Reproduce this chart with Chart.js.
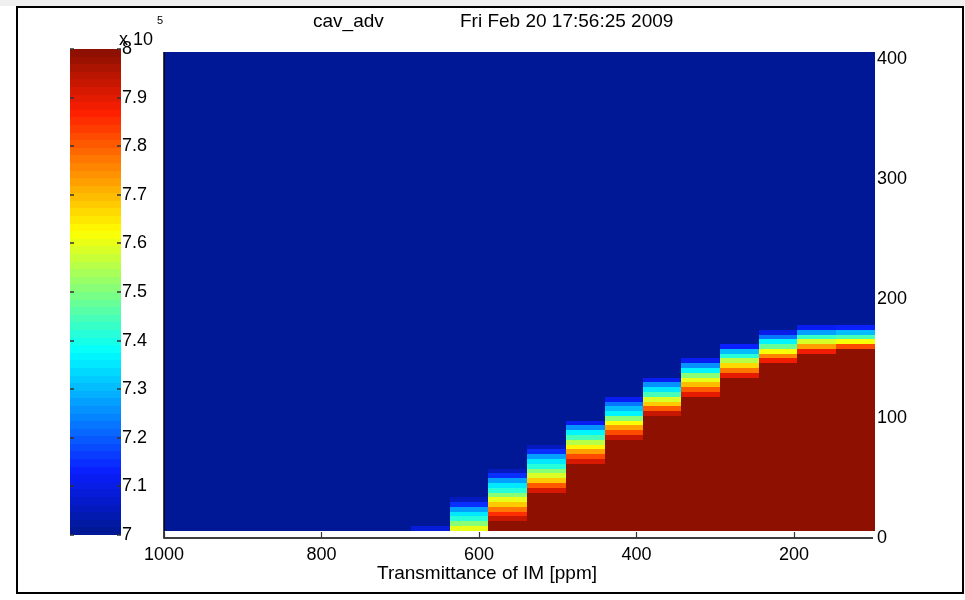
<!DOCTYPE html>
<html>
<head>
<meta charset="utf-8">
<script src="https://cdn.jsdelivr.net/npm/chart.js@4.4.1/dist/chart.umd.min.js"></script>
<style>
  html, body { margin: 0; padding: 0; background: #fff; }
  #wrap { position: relative; width: 965px; height: 600px; }
  #wrap canvas { position: absolute; left: 0; top: 0; }
</style>
</head>
<body>
<div id="wrap">
  <canvas id="graph_map" width="965" height="600"></canvas>
  <canvas id="graph_cbar" width="200" height="600"></canvas>
</div>
<script>
/*------------------------------*/
/*            Donnees           */
/*------------------------------*/
var xTicks = [1000, 800, 600, 400, 200]
var yTicks = [0, 100, 200, 300, 400]
var cbarTicks = [7, 7.1, 7.2, 7.3, 7.4, 7.5, 7.6, 7.7, 7.8, 7.9, 8]

// image extent (x in ppm, y in axis units), row height of the map
var xRange = [1000, 97]
var yRange = [6, 406]
var rowStep = 4

// colour limits (x 10^5)
var vMin = 7
var vMax = 8

// column edges (ppm), left of the first edge everything is vMin
var xEdges = [686, 637, 588.5, 539, 489.5, 440, 392, 343, 294, 244.5, 196, 146.5, 97]
// number of rows at vMax at the bottom of each column
var redRows = [0, 0, 2, 8, 14, 19, 24, 28, 32, 35, 37, 38]
// values of the transition rows above, from bottom to top
var bands = [
    [7.08],
    [7.6, 7.5, 7.42, 7.35, 7.27, 7.15, 7.05],
    [7.93, 7.85, 7.77, 7.68, 7.6, 7.5, 7.42, 7.35, 7.27, 7.15, 7.05],
    [7.92, 7.8, 7.68, 7.58, 7.5, 7.42, 7.35, 7.27, 7.15, 7.05],
    [7.92, 7.82, 7.72, 7.64, 7.55, 7.45, 7.36, 7.25, 7.12],
    [7.93, 7.82, 7.72, 7.62, 7.5, 7.37, 7.3, 7.22, 7.12],
    [7.93, 7.8, 7.68, 7.58, 7.45, 7.35, 7.25, 7.12],
    [7.9, 7.8, 7.7, 7.6, 7.5, 7.37, 7.25, 7.12],
    [7.9, 7.78, 7.66, 7.55, 7.42, 7.3, 7.13],
    [7.88, 7.75, 7.62, 7.48, 7.36, 7.23, 7.1],
    [7.88, 7.72, 7.58, 7.43, 7.28, 7.12],
    [7.82, 7.62, 7.44, 7.3, 7.14]
]

var titleLeft = 'cav_adv'
var titleRight = 'Fri Feb 20 17:56:25 2009'
var xTitle = 'Transmittance of IM [ppm]'

/*------------------------------*/
/*        Colormap (jet)        */
/*------------------------------*/
var jetStops = [
    [0, [0, 24, 150]],
    [0.125, [10, 30, 255]],
    [0.375, [0, 255, 255]],
    [0.625, [255, 255, 0]],
    [0.875, [255, 30, 0]],
    [1, [142, 16, 0]]
]
function jetIndex(v) {
    var i = Math.floor((v - vMin) / (vMax - vMin) * 64)
    return Math.min(63, Math.max(0, i))
}
function jetColor(i) {
    var t = i / 63
    for (var k = 1; k < jetStops.length; k++) {
        if (t <= jetStops[k][0]) {
            var a = jetStops[k - 1], b = jetStops[k]
            var f = (t - a[0]) / (b[0] - a[0])
            var c = a[1].map(function (ca, n) { return Math.round(ca + (b[1][n] - ca) * f) })
            return 'rgb(' + c.join(',') + ')'
        }
    }
    return 'rgb(142,16,0)'
}
function colorOf(v) { return jetColor(jetIndex(v)) }

var font = '"Liberation Sans", Arial, sans-serif'
Chart.defaults.font.family = font
Chart.defaults.color = '#000'

/*------------------------------*/
/*          Graphe carte        */
/*------------------------------*/
var mapPlugin = {
    id: 'heatmap',
    beforeDatasetsDraw: function (chart) {
        var ctx = chart.ctx
        var xs = chart.scales.x, ys = chart.scales.y
        function rect(x0, x1, y0, y1, col) {
            var a = Math.round(xs.getPixelForValue(x0)), b = Math.round(xs.getPixelForValue(x1))
            var c = Math.round(ys.getPixelForValue(y1)), d = Math.round(ys.getPixelForValue(y0))
            ctx.fillStyle = col
            ctx.fillRect(Math.min(a, b), c, Math.abs(b - a), d - c)
        }
        ctx.save()
        rect(xRange[0], xRange[1], yRange[0], yRange[1], colorOf(vMin))
        for (var c = 0; c < bands.length; c++) {
            var xl = xEdges[c], xr = xEdges[c + 1]
            if (redRows[c] > 0) {
                rect(xl, xr, yRange[0], yRange[0] + redRows[c] * rowStep, colorOf(vMax))
            }
            for (var j = 0; j < bands[c].length; j++) {
                var r = redRows[c] + j
                rect(xl, xr, yRange[0] + r * rowStep, yRange[0] + (r + 1) * rowStep, colorOf(bands[c][j]))
            }
        }
        ctx.restore()
    },
    afterDraw: function (chart) {
        var ctx = chart.ctx
        var area = chart.chartArea
        var xs = chart.scales.x
        ctx.save()
        // axes
        ctx.strokeStyle = '#000'
        ctx.lineWidth = 1.5
        ctx.beginPath()
        ctx.moveTo(area.left, area.top)
        ctx.lineTo(area.left, area.bottom)
        ctx.lineTo(area.right - 2, area.bottom)
        ctx.stroke()
        ctx.lineWidth = 1.2
        ctx.strokeStyle = '#333'
        xTicks.forEach(function (v) {
            var px = Math.round(xs.getPixelForValue(v)) + 0.5
            ctx.beginPath()
            ctx.moveTo(px, area.bottom)
            ctx.lineTo(px, area.bottom - 6)
            ctx.stroke()
        })
        // titres
        ctx.fillStyle = '#000'
        ctx.font = '19px ' + font
        ctx.textBaseline = 'alphabetic'
        ctx.textAlign = 'left'
        ctx.fillText(titleLeft, 313, 27)
        ctx.fillText(titleRight, 460, 27)
        ctx.textAlign = 'center'
        ctx.fillText(xTitle, 487, 579)
        // cadre
        ctx.fillStyle = '#f0f0f0'
        ctx.fillRect(0, 0, 965, 6)
        ctx.strokeStyle = '#000'
        ctx.lineWidth = 2
        ctx.strokeRect(17, 7, 946, 586)
        ctx.restore()
    }
}

var ctx_map = document.getElementById('graph_map').getContext('2d')
var config_map = {
    type: 'scatter',
    data: { datasets: [] },
    options: {
        responsive: false,
        animation: false,
        layout: { padding: { left: 164, top: 52 } },
        plugins: { legend: { display: false }, tooltip: { enabled: false } },
        scales: {
            x: {
                type: 'linear',
                min: xRange[1],
                max: xRange[0],
                reverse: true,
                grid: { display: false, drawTicks: false },
                border: { display: false },
                ticks: {
                    font: { size: 18 }, color: '#000', padding: 6, maxRotation: 0,
                    callback: function (v) { return String(v) }
                },
                afterBuildTicks: function (axis) { axis.ticks = xTicks.map(function (v) { return { value: v } }) },
                afterFit: function (axis) { axis.height = 62 }
            },
            y: {
                type: 'linear',
                position: 'right',
                min: 0,
                max: yRange[1],
                grid: { display: false, drawTicks: false },
                border: { display: false },
                ticks: {
                    font: { size: 18 }, color: '#000', padding: 2,
                    callback: function (v) { return String(v) }
                },
                afterBuildTicks: function (axis) { axis.ticks = yTicks.map(function (v) { return { value: v } }) },
                afterFit: function (axis) { axis.width = 90 }
            }
        }
    },
    plugins: [mapPlugin]
}
var graph_map = new Chart(ctx_map, config_map)

/*------------------------------*/
/*         Barre couleurs       */
/*------------------------------*/
var cbarPlugin = {
    id: 'cbar',
    beforeDatasetsDraw: function (chart) {
        var ctx = chart.ctx
        var area = chart.chartArea
        var ys = chart.scales.y
        ctx.save()
        for (var i = 0; i < 64; i++) {
            var y0 = Math.round(ys.getPixelForValue(vMin + (vMax - vMin) * i / 64))
            var y1 = Math.round(ys.getPixelForValue(vMin + (vMax - vMin) * (i + 1) / 64))
            ctx.fillStyle = jetColor(i)
            ctx.fillRect(area.left, y1, area.right - area.left, y0 - y1)
        }
        ctx.strokeStyle = '#333'
        ctx.lineWidth = 1.5
        cbarTicks.forEach(function (v) {
            var py = Math.round(ys.getPixelForValue(v))
            ctx.beginPath()
            ctx.moveTo(area.left, py)
            ctx.lineTo(area.left + 4, py)
            ctx.moveTo(area.right - 4, py)
            ctx.lineTo(area.right, py)
            ctx.stroke()
        })
        ctx.fillStyle = '#000'
        ctx.textAlign = 'left'
        ctx.textBaseline = 'alphabetic'
        ctx.font = '18px ' + font
        ctx.fillText('x 10', 119, 45)
        ctx.font = '11px ' + font
        ctx.fillText('5', 157, 24)
        ctx.restore()
    }
}

var ctx_cbar = document.getElementById('graph_cbar').getContext('2d')
var config_cbar = {
    type: 'scatter',
    data: { datasets: [] },
    options: {
        responsive: false,
        animation: false,
        layout: { padding: { left: 70, top: 49, bottom: 65 } },
        plugins: { legend: { display: false }, tooltip: { enabled: false } },
        scales: {
            x: { type: 'linear', min: 0, max: 1, display: false },
            y: {
                type: 'linear',
                position: 'right',
                min: vMin,
                max: vMax,
                grid: { display: false, drawTicks: false },
                border: { display: false },
                ticks: {
                    font: { size: 18 }, color: '#000', padding: 1,
                    callback: function (v) { return String(Math.round(v * 10) / 10) }
                },
                afterBuildTicks: function (axis) { axis.ticks = cbarTicks.map(function (v) { return { value: v } }) },
                afterFit: function (axis) { axis.width = 79 }
            }
        }
    },
    plugins: [cbarPlugin]
}
var graph_cbar = new Chart(ctx_cbar, config_cbar)
</script>
</body>
</html>
